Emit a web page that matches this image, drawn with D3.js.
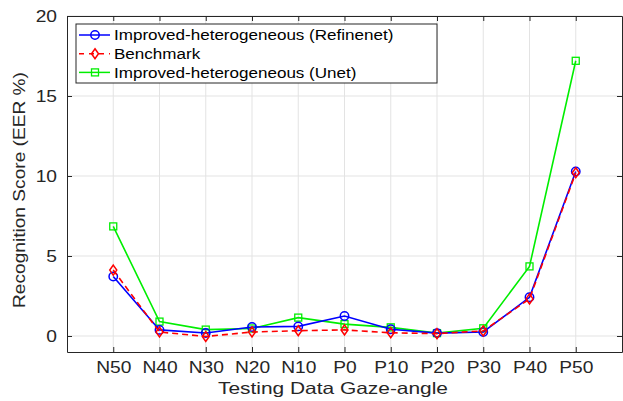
<!DOCTYPE html>
<html><head><meta charset="utf-8">
<script src="https://cdn.jsdelivr.net/npm/d3@7"></script>
<style>body{margin:0;background:#fff}svg{display:block}text{font-family:"Liberation Sans",Arial,Helvetica,sans-serif}</style>
</head><body>
<script>
const categories = ["N50","N40","N30","N20","N10","P0","P10","P20","P30","P40","P50"];
const refinenet = [3.72,0.38,0.19,0.56,0.6,1.25,0.42,0.18,0.25,2.42,10.28];
const benchmark = [4.12,0.25,-0.03,0.25,0.33,0.38,0.2,0.15,0.32,2.32,10.2];
const unet = [6.85,0.9,0.4,0.47,1.15,0.74,0.54,0.18,0.48,4.35,17.2];
const yTicks = [0,5,10,15,20];
const seriesNames = ["Improved-heterogeneous (Refinenet)","Benchmark","Improved-heterogeneous (Unet)"];

const W=623,H=401;
const L=67,R=622,T=16,B=352;
const SX=1.2;
const svg=d3.select("body").append("svg").attr("width",W).attr("height",H);
const x=d3.scaleLinear().domain([0,12]).range([L,R]);
const y=d3.scaleLinear().domain([-1,20]).range([B,T]);
const ink="#262626";

// grid
const g=svg.append("g");
g.selectAll(".gx").data(categories).join("line")
 .attr("x1",(d,i)=>x(i+1)).attr("x2",(d,i)=>x(i+1)).attr("y1",T).attr("y2",B)
 .attr("stroke","#e3e3e3").attr("stroke-width",1);
g.selectAll(".gy").data(yTicks).join("line")
 .attr("x1",L).attr("x2",R).attr("y1",d=>y(d)).attr("y2",d=>y(d))
 .attr("stroke","#e3e3e3").attr("stroke-width",1);

// axes
const xa=d3.axisBottom(x).tickValues(d3.range(1,12)).tickFormat(i=>categories[i-1]).tickSize(-5).tickSizeOuter(0).tickPadding(10);
const ya=d3.axisLeft(y).tickValues(yTicks).tickSize(-5).tickSizeOuter(0).tickPadding(10);
const xt=d3.axisTop(x).tickValues(d3.range(1,12)).tickFormat("").tickSize(-5).tickSizeOuter(0);
const yr=d3.axisRight(y).tickValues(yTicks).tickFormat("").tickSize(-5).tickSizeOuter(0);
function style(sel){sel.selectAll("path,line").attr("stroke",ink).attr("stroke-width",1);
 sel.selectAll("text").attr("fill",ink).attr("font-size",16).attr("font-family","Liberation Sans, Arial, sans-serif");}
svg.append("g").attr("transform",`translate(0,${B})`).call(xa).call(style)
 .selectAll("text").attr("transform",`scale(${SX},1)`);
svg.append("g").attr("transform",`translate(${L},0)`).call(ya).call(style)
 .selectAll("text").attr("x",-10/SX).attr("transform",`scale(${SX},1)`);
svg.append("g").attr("transform",`translate(0,${T})`).call(xt).call(style);
svg.append("g").attr("transform",`translate(${R},0)`).call(yr).call(style);

// lines
const series=[
 {name:seriesNames[0],vals:refinenet,color:"#0000ff",dash:null,marker:"circle"},
 {name:seriesNames[1],vals:benchmark,color:"#ff0000",dash:"6,4",marker:"diamond"},
 {name:seriesNames[2],vals:unet,color:"#00ee00",dash:null,marker:"square"}
];
const line=d3.line().x((d,i)=>x(i+1)).y(d=>y(d));
const order=[2,0,1];
function marker(sel,type,color){
 if(type==="circle") sel.append("circle").attr("r",4.2).attr("fill","none").attr("stroke",color).attr("stroke-width",1.5);
 else if(type==="diamond") sel.append("path").attr("d","M0,-5L3.5,0L0,5L-3.5,0Z").attr("fill","none").attr("stroke",color).attr("stroke-width",1.5);
 else sel.append("rect").attr("x",-3.5).attr("y",-3.5).attr("width",7).attr("height",7).attr("fill","none").attr("stroke",color).attr("stroke-width",1.3);
}
order.forEach(k=>{
 const s=series[k];
 svg.append("path").datum(s.vals).attr("d",line).attr("fill","none").attr("stroke",s.color)
  .attr("stroke-width",1.6).attr("stroke-dasharray",s.dash);
 s.vals.forEach((v,i)=>{
  const m=svg.append("g").attr("transform",`translate(${x(i+1)},${y(v)})`);
  marker(m,s.marker,s.color);
 });
});

// legend
const lg=svg.append("g");
lg.append("rect").attr("x",76).attr("y",24).attr("width",361).attr("height",59)
 .attr("fill","#fff").attr("stroke",ink).attr("stroke-width",1);
series.forEach((s,i)=>{
 const yy=35+i*18.7;
 lg.append("line").attr("x1",79).attr("x2",110).attr("y1",yy).attr("y2",yy)
  .attr("stroke",s.color).attr("stroke-width",1.5).attr("stroke-dasharray",s.dash?"5,5":null);
 const m=lg.append("g").attr("transform",`translate(95,${yy})`);
 marker(m,s.marker,s.color);
 lg.append("text").attr("transform",`translate(114,${yy}) scale(1.1,1)`).attr("dy","0.35em")
  .attr("font-size",15.5).attr("fill","#000").text(s.name);
});

// axis labels
svg.append("text").attr("x",333).attr("y",394).attr("text-anchor","middle").attr("font-size",16.5)
 .attr("textLength",230).attr("lengthAdjust","spacingAndGlyphs").attr("fill",ink).text("Testing Data Gaze-angle");
svg.append("text").attr("transform",`translate(25,190) rotate(-90)`).attr("text-anchor","middle").attr("font-size",17)
 .attr("textLength",236).attr("lengthAdjust","spacingAndGlyphs").attr("fill",ink).text("Recognition Score (EER %)");
</script>
</body></html>
